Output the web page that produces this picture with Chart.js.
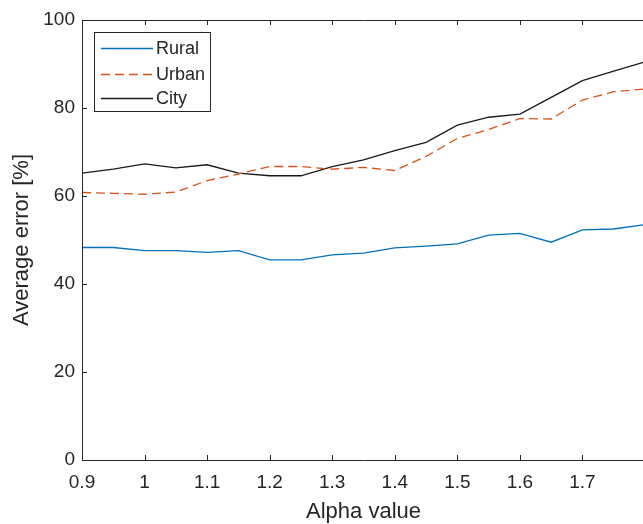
<!DOCTYPE html>
<html>
<head>
<meta charset="utf-8">
<script src="https://cdn.jsdelivr.net/npm/chart.js@4/dist/chart.umd.min.js"></script>
<style>
	html, body { margin: 0; padding: 0; background: #fff; overflow: hidden; }
	#wrap { width: 643px; height: 524px; overflow: hidden; }
</style>
</head>
<body>
<div id="wrap"><canvas id="chart" width="648" height="524"></canvas></div>
<script>
const alphaValues = [0.9, 0.95, 1.0, 1.05, 1.1, 1.15, 1.2, 1.25, 1.3, 1.35, 1.4, 1.45, 1.5, 1.55, 1.6, 1.65, 1.7, 1.75, 1.8]
const rural = [48.3, 48.3, 47.6, 47.6, 47.2, 47.6, 45.5, 45.5, 46.6, 47.0, 48.2, 48.6, 49.1, 51.1, 51.5, 49.5, 52.3, 52.5, 53.5]
const urban = [60.8, 60.6, 60.4, 60.9, 63.5, 65.0, 66.7, 66.7, 66.1, 66.5, 65.8, 69.0, 73.1, 75.1, 77.6, 77.5, 81.8, 83.7, 84.3]
const city = [65.2, 66.1, 67.3, 66.4, 67.1, 65.2, 64.6, 64.6, 66.7, 68.2, 70.3, 72.2, 76.1, 77.9, 78.6, 82.4, 86.2, 88.4, 90.5]
const xTicks = [0.9, 1.0, 1.1, 1.2, 1.3, 1.4, 1.5, 1.6, 1.7, 1.8]
const xTickLabels = ['0.9', '1', '1.1', '1.2', '1.3', '1.4', '1.5', '1.6', '1.7', '']
const yTicks = [0, 20, 40, 60, 80, 100]

const FONT = '"Liberation Sans", Arial, Helvetica, sans-serif'
const AXIS_COLOR = '#262626'

// matlab style box with inward ticks and boxed legend
const matlabAxes = {
	id: 'matlabAxes',
	afterDatasetsDraw(chart) {
		const { ctx, chartArea: area, scales } = chart
		const x = scales.x
		const y = scales.y
		ctx.save()
		ctx.strokeStyle = AXIS_COLOR
		ctx.lineWidth = 1
		ctx.beginPath()
		ctx.moveTo(area.left + 0.5, area.top + 0.5)
		ctx.lineTo(area.left + 0.5, area.bottom + 0.5)
		ctx.lineTo(area.right, area.bottom + 0.5)
		ctx.moveTo(area.left + 0.5, area.top + 0.5)
		ctx.lineTo(area.right, area.top + 0.5)
		xTicks.forEach((v) => {
			const px = Math.round(x.getPixelForValue(v)) + 0.5
			ctx.moveTo(px, area.bottom)
			ctx.lineTo(px, area.bottom - 5)
			ctx.moveTo(px, area.top)
			ctx.lineTo(px, area.top + 5)
		})
		yTicks.forEach((v) => {
			const py = Math.round(y.getPixelForValue(v)) + 0.5
			ctx.moveTo(area.left, py)
			ctx.lineTo(area.left + 5, py)
		})
		ctx.stroke()

		// legend
		const box = { left: 94.5, top: 32.5, width: 116, height: 79 }
		ctx.fillStyle = '#fff'
		ctx.fillRect(box.left, box.top, box.width, box.height)
		ctx.strokeRect(box.left, box.top, box.width, box.height)
		const rows = [48.5, 74.5, 98.5]
		ctx.font = '18px ' + FONT
		ctx.textBaseline = 'middle'
		chart.data.datasets.forEach((ds, i) => {
			ctx.strokeStyle = ds.borderColor
			ctx.lineWidth = ds.borderWidth
			ctx.setLineDash(ds.borderDash || [])
			ctx.beginPath()
			ctx.moveTo(101, rows[i])
			ctx.lineTo(153, rows[i])
			ctx.stroke()
			ctx.setLineDash([])
			ctx.fillStyle = AXIS_COLOR
			ctx.fillText(ds.label, 156, rows[i] + 1)
		})
		ctx.restore()
	},
}

function toPoints(values) {
	return values.map((v, i) => ({ x: alphaValues[i], y: v }))
}

const ctx = document.getElementById('chart').getContext('2d')
new Chart(ctx, {
	type: 'line',
	data: {
		datasets: [
			{
				label: 'Rural',
				data: toPoints(rural),
				borderColor: '#0072BD',
				borderWidth: 1.3,
				pointRadius: 0,
				tension: 0,
			},
			{
				label: 'Urban',
				data: toPoints(urban),
				borderColor: '#D95319',
				borderWidth: 1.3,
				borderDash: [9, 5],
				pointRadius: 0,
				tension: 0,
			},
			{
				label: 'City',
				data: toPoints(city),
				borderColor: '#1a1a1a',
				borderWidth: 1.3,
				pointRadius: 0,
				tension: 0,
			},
		],
	},
	options: {
		responsive: false,
		animation: false,
		layout: { padding: { top: 20, right: 3, left: 0, bottom: 0 } },
		plugins: {
			legend: { display: false },
			tooltip: { enabled: false },
		},
		scales: {
			x: {
				type: 'linear',
				min: 0.9,
				max: 1.8,
				afterFit: (scale) => {
					scale.height = 64
					scale.paddingLeft = 0
					scale.paddingRight = 0
				},
				afterBuildTicks: (scale) => { scale.ticks = xTicks.map((v) => ({ value: v })) },
				grid: { display: false, drawTicks: false },
				border: { display: false },
				ticks: {
					autoSkip: false,
					maxRotation: 0,
					padding: 11,
					color: AXIS_COLOR,
					font: { family: FONT, size: 19 },
					callback: (value, index) => xTickLabels[index],
				},
				title: {
					display: true,
					text: 'Alpha value',
					color: AXIS_COLOR,
					font: { family: FONT, size: 22 },
					padding: { top: 0, bottom: -1 },
				},
			},
			y: {
				min: 0,
				max: 100,
				afterFit: (scale) => {
					scale.width = 82
					scale.paddingTop = 0
					scale.paddingBottom = 0
				},
				afterBuildTicks: (scale) => { scale.ticks = yTicks.map((v) => ({ value: v })) },
				grid: { display: false, drawTicks: false },
				border: { display: false },
				ticks: {
					padding: 7,
					color: AXIS_COLOR,
					font: { family: FONT, size: 19 },
				},
				title: {
					display: true,
					text: 'Average error [%]',
					color: AXIS_COLOR,
					font: { family: FONT, size: 22 },
					padding: { top: 9, bottom: 0 },
				},
			},
		},
	},
	plugins: [matlabAxes],
})
</script>
</body>
</html>
